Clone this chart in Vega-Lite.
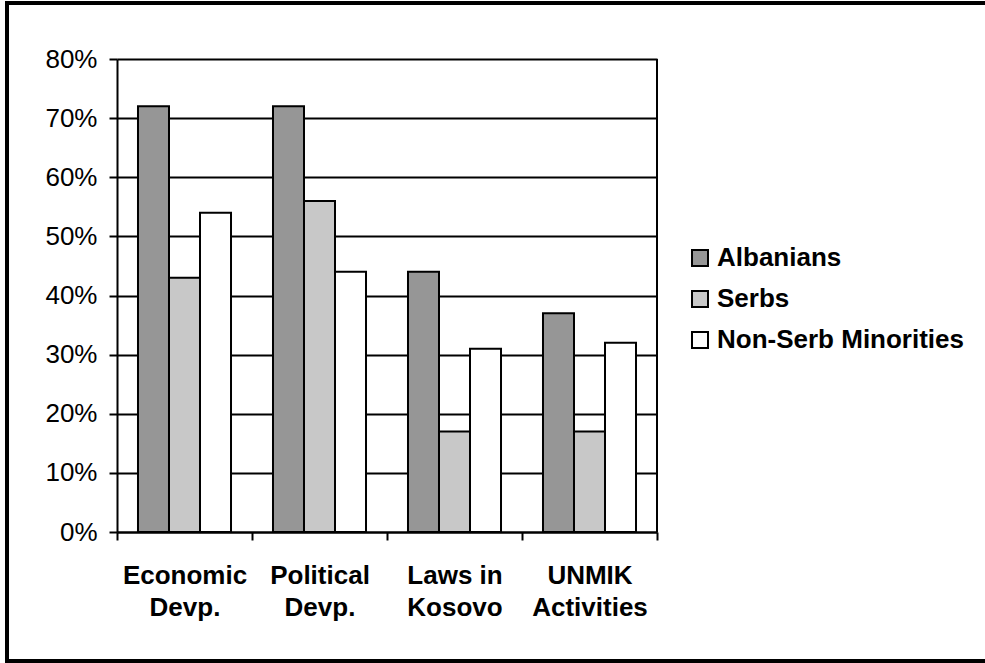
{
  "$schema": "https://vega.github.io/schema/vega-lite/v6.json",
  "width": 982,
  "height": 658,
  "autosize": {"type": "none"},
  "padding": {"left": 7, "top": 3, "right": 0, "bottom": 2},
  "background": "white",
  "config": {
    "view": {"stroke": "black", "strokeWidth": 4},
    "font": "Liberation Sans"
  },
  "data": {
    "values": [
      {"category": "Economic Devp.", "group": "Albanians", "value": 0.72},
      {"category": "Economic Devp.", "group": "Serbs", "value": 0.43},
      {"category": "Economic Devp.", "group": "Non-Serb Minorities", "value": 0.54},
      {"category": "Political Devp.", "group": "Albanians", "value": 0.72},
      {"category": "Political Devp.", "group": "Serbs", "value": 0.56},
      {"category": "Political Devp.", "group": "Non-Serb Minorities", "value": 0.44},
      {"category": "Laws in Kosovo", "group": "Albanians", "value": 0.44},
      {"category": "Laws in Kosovo", "group": "Serbs", "value": 0.17},
      {"category": "Laws in Kosovo", "group": "Non-Serb Minorities", "value": 0.31},
      {"category": "UNMIK Activities", "group": "Albanians", "value": 0.37},
      {"category": "UNMIK Activities", "group": "Serbs", "value": 0.17},
      {"category": "UNMIK Activities", "group": "Non-Serb Minorities", "value": 0.32}
    ]
  },
  "layer": [
    {
      "mark": {"type": "bar", "stroke": "black", "strokeWidth": 2},
      "encoding": {
        "x": {
          "field": "category",
          "type": "nominal",
          "sort": ["Economic Devp.", "Political Devp.", "Laws in Kosovo", "UNMIK Activities"],
          "scale": {"range": [110, 650], "paddingInner": 0, "paddingOuter": 0},
          "axis": {
            "orient": "bottom",
            "offset": -129,
            "title": null,
            "tickBand": "extent",
            "domainColor": "black",
            "domainWidth": 2,
            "tickColor": "black",
            "tickWidth": 2,
            "tickSize": 8,
            "labelAngle": 0,
            "labelFont": "Liberation Sans",
            "labelFontSize": 26,
            "labelFontWeight": "bold",
            "labelColor": "black",
            "labelPadding": 22,
            "labelLineHeight": 32,
            "labelLimit": 400,
            "labelExpr": "datum.label == 'Laws in Kosovo' ? ['Laws in', 'Kosovo'] : split(datum.label, ' ')",
            "grid": false
          }
        },
        "xOffset": {
          "field": "group",
          "type": "nominal",
          "sort": ["Albanians", "Serbs", "Non-Serb Minorities"],
          "scale": {"paddingInner": 0, "paddingOuter": 0.677}
        },
        "y": {
          "field": "value",
          "type": "quantitative",
          "scale": {"domain": [0, 0.8], "range": [529, 56], "nice": false},
          "axis": {
            "orient": "left",
            "offset": -110,
            "title": null,
            "values": [0, 0.1, 0.2, 0.3, 0.4, 0.5, 0.6, 0.7, 0.8],
            "format": ".0%",
            "grid": true,
            "gridColor": "black",
            "gridWidth": 2,
            "gridOpacity": 1,
            "domainColor": "black",
            "domainWidth": 2,
            "tickColor": "black",
            "tickWidth": 2,
            "tickSize": 8,
            "labelFont": "Liberation Sans",
            "labelFontSize": 26,
            "labelColor": "black",
            "labelPadding": 12
          }
        },
        "color": {
          "field": "group",
          "type": "nominal",
          "sort": ["Albanians", "Serbs", "Non-Serb Minorities"],
          "scale": {
            "domain": ["Albanians", "Serbs", "Non-Serb Minorities"],
            "range": ["#969696", "#c8c8c8", "#ffffff"]
          },
          "legend": {
            "orient": "none",
            "legendX": 680,
            "legendY": 242,
            "title": null,
            "padding": 0,
            "symbolType": "square",
            "symbolSize": 256,
            "symbolStrokeColor": "black",
            "symbolStrokeWidth": 2,
            "symbolOpacity": 1,
            "labelFont": "Liberation Sans",
            "labelFontSize": 26,
            "labelFontWeight": "bold",
            "labelColor": "black",
            "labelOffset": 4,
            "labelLimit": 400,
            "rowPadding": 15
          }
        }
      }
    },
    {
      "mark": {"type": "rule", "color": "black", "strokeWidth": 2},
      "encoding": {
        "x": {"datum": "UNMIK Activities", "bandPosition": 1},
        "y": {"datum": 0},
        "y2": {"datum": 0.8}
      }
    }
  ]
}
